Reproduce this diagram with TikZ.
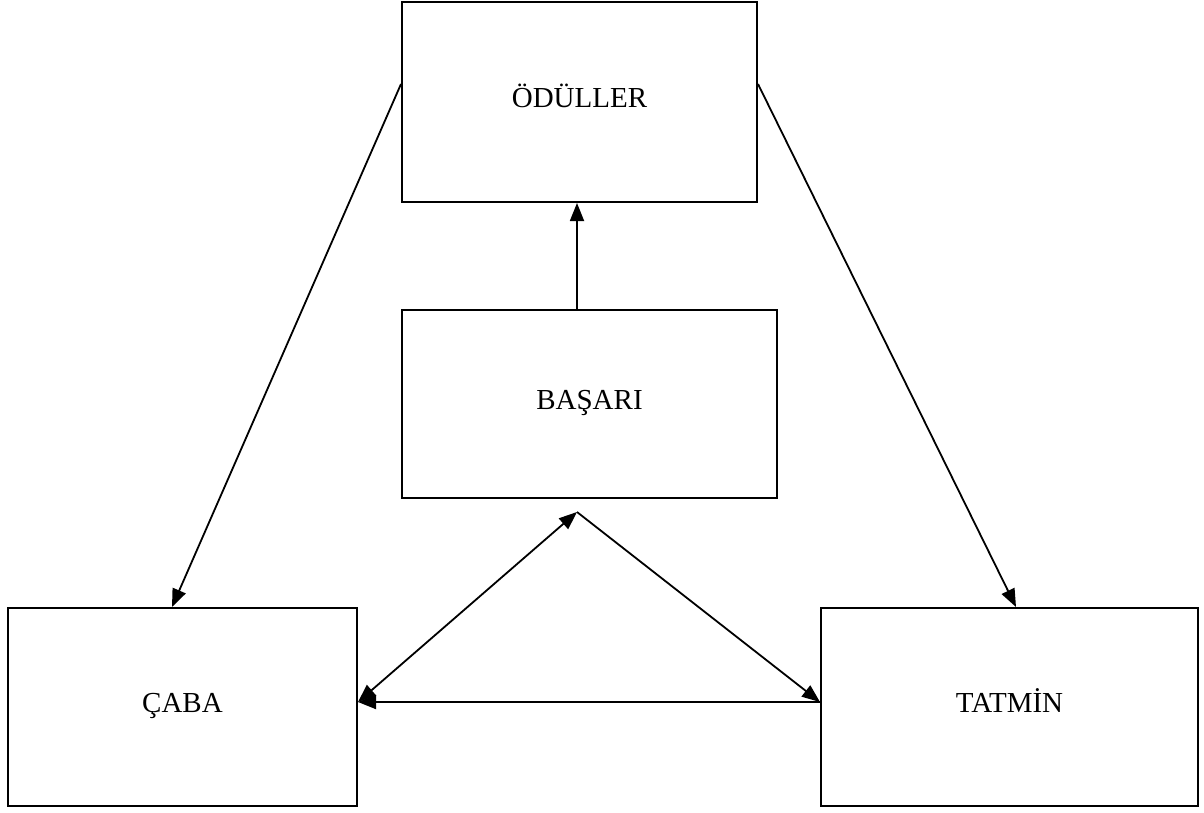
\documentclass[tikz,border=0pt]{standalone}
\usepackage{fontspec}
\setmainfont{Liberation Serif}
\usetikzlibrary{arrows.meta,calc}
\begin{document}
\begin{tikzpicture}[x=1pt,y=-1pt,
  box/.style={draw,line width=2pt,inner sep=0pt,text height=19pt,text depth=8pt,font=\fontsize{29}{34}\selectfont},
  arr/.style={line width=1.8pt,-{Triangle[length=18pt,width=14pt]}},
  darr/.style={line width=1.8pt,{Triangle[length=18pt,width=14pt]}-{Triangle[length=18pt,width=14pt]}}]
\useasboundingbox (0,0) rectangle (1204,812);
\node[box,minimum width=355pt,minimum height=200pt] (od) at (579.5,102) {ÖDÜLLER};
\node[box,minimum width=375pt,minimum height=188pt] (bs) at (589.5,404) {BAŞARI};
\node[box,minimum width=349pt,minimum height=198pt] (cb) at (182.5,707) {ÇABA};
\node[box,minimum width=377pt,minimum height=198pt] (tt) at (1009.5,707) {TATMİN};
\coordinate (apex) at (577,512);
\draw[arr] ([yshift=-83pt]od.north west) -- ([xshift=165pt]cb.north west);
\draw[arr] ([yshift=-83pt]od.north east) -- ([xshift=196pt]tt.north west);
\draw[arr] ([xshift=-12.5pt]bs.north) -- ([xshift=-2.5pt]od.south);
\draw[darr] ([yshift=5pt]cb.east) -- (apex);
\draw[arr] (apex) -- ([yshift=5pt]tt.west);
\draw[arr] ([yshift=5pt]tt.west) -- ([yshift=5pt]cb.east);
\end{tikzpicture}
\end{document}
